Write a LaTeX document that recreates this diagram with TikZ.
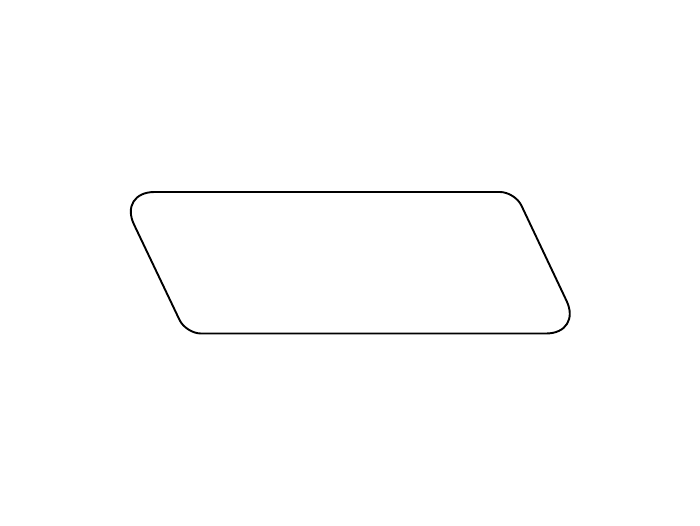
\documentclass[tikz,border=0pt]{standalone}
\usetikzlibrary{positioning, calc}
\tikzset{
	iobox/.style = {draw, line width=1.9pt, line join=round},
}
\begin{document}
\begin{tikzpicture}[x=1pt, y=-1pt]
\useasboundingbox (0,0) rectangle (700,525);
\coordinate (tl) at (118.5,192);
\coordinate (tr) at (515,192);
\coordinate (br) at (582,333.5);
\coordinate (bl) at (186,333.5);
\coordinate (mt) at ($(tl)!0.5!(tr)$);
% input/output box, sharper corners get more inset
\draw [iobox] (mt) [rounded corners=15pt] -- (tr) [rounded corners=36pt] -- (br)
	[rounded corners=15pt] -- (bl) [rounded corners=36pt] -- (tl) -- cycle;
\end{tikzpicture}
\end{document}
